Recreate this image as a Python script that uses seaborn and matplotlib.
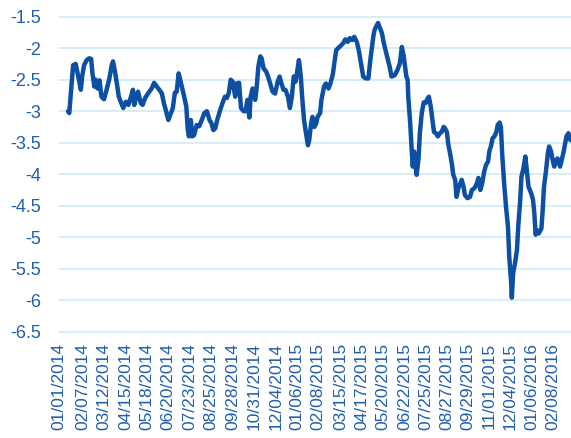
import matplotlib
matplotlib.use("Agg")
import matplotlib.pyplot as plt
import seaborn as sns
import pandas as pd

# traced series (date, value)
dates = [
    "2014-01-15", "2014-01-17", "2014-01-23", "2014-01-27", "2014-01-30", "2014-02-04", "2014-02-06",
    "2014-02-09", "2014-02-13", "2014-02-17", "2014-02-20", "2014-02-22", "2014-02-25", "2014-02-27",
    "2014-03-02", "2014-03-05", "2014-03-08", "2014-03-12", "2014-03-16", "2014-03-20", "2014-03-24",
    "2014-03-26", "2014-03-29", "2014-04-01", "2014-04-04", "2014-04-07", "2014-04-11", "2014-04-15",
    "2014-04-19", "2014-04-23", "2014-04-26", "2014-04-28", "2014-05-02", "2014-05-04", "2014-05-08",
    "2014-05-11", "2014-05-15", "2014-05-20", "2014-05-25", "2014-05-29", "2014-06-02", "2014-06-06",
    "2014-06-10", "2014-06-13", "2014-06-16", "2014-06-20", "2014-06-23", "2014-06-27", "2014-06-30",
    "2014-07-03", "2014-07-06", "2014-07-08", "2014-07-11", "2014-07-14", "2014-07-18", "2014-07-20",
    "2014-07-22", "2014-07-25", "2014-07-27", "2014-07-30", "2014-08-03", "2014-08-07", "2014-08-11",
    "2014-08-15", "2014-08-19", "2014-08-23", "2014-08-26", "2014-08-29", "2014-09-01", "2014-09-04",
    "2014-09-08", "2014-09-13", "2014-09-16", "2014-09-19", "2014-09-22", "2014-09-25", "2014-09-28",
    "2014-10-02", "2014-10-04", "2014-10-08", "2014-10-11", "2014-10-15", "2014-10-18", "2014-10-21",
    "2014-10-24", "2014-10-26", "2014-10-29", "2014-11-02", "2014-11-04", "2014-11-07", "2014-11-10",
    "2014-11-12", "2014-11-15", "2014-11-19", "2014-11-22", "2014-11-25", "2014-11-29", "2014-12-03",
    "2014-12-07", "2014-12-10", "2014-12-12", "2014-12-16", "2014-12-19", "2014-12-23", "2014-12-26",
    "2014-12-29", "2015-01-01", "2015-01-04", "2015-01-07", "2015-01-09", "2015-01-12", "2015-01-14",
    "2015-01-17", "2015-01-20", "2015-01-23", "2015-01-25", "2015-01-28", "2015-01-30", "2015-02-02",
    "2015-02-05", "2015-02-07", "2015-02-11", "2015-02-13", "2015-02-17", "2015-02-20", "2015-02-24",
    "2015-02-27", "2015-03-03", "2015-03-05", "2015-03-08", "2015-03-11", "2015-03-15", "2015-03-19",
    "2015-03-22", "2015-03-26", "2015-03-29", "2015-04-02", "2015-04-05", "2015-04-09", "2015-04-12",
    "2015-04-16", "2015-04-19", "2015-04-23", "2015-04-27", "2015-04-30", "2015-05-02", "2015-05-05",
    "2015-05-07", "2015-05-12", "2015-05-18", "2015-05-21", "2015-05-26", "2015-05-30", "2015-06-02",
    "2015-06-07", "2015-06-11", "2015-06-15", "2015-06-18", "2015-06-21", "2015-06-25", "2015-06-27",
    "2015-06-28", "2015-07-01", "2015-07-03", "2015-07-05", "2015-07-07", "2015-07-09", "2015-07-11",
    "2015-07-14", "2015-07-16", "2015-07-19", "2015-07-22", "2015-07-25", "2015-07-28", "2015-07-30",
    "2015-08-02", "2015-08-04", "2015-08-07", "2015-08-10", "2015-08-13", "2015-08-16", "2015-08-19",
    "2015-08-22", "2015-08-24", "2015-08-27", "2015-08-29", "2015-09-01", "2015-09-04", "2015-09-06",
    "2015-09-09", "2015-09-11", "2015-09-14", "2015-09-17", "2015-09-19", "2015-09-22", "2015-09-24",
    "2015-09-28", "2015-10-02", "2015-10-05", "2015-10-09", "2015-10-13", "2015-10-15", "2015-10-18",
    "2015-10-21", "2015-10-24", "2015-10-27", "2015-10-30", "2015-11-01", "2015-11-04", "2015-11-06",
    "2015-11-09", "2015-11-12", "2015-11-14", "2015-11-17", "2015-11-19", "2015-11-21", "2015-11-24",
    "2015-11-27", "2015-11-30", "2015-12-02", "2015-12-05", "2015-12-06", "2015-12-08", "2015-12-11",
    "2015-12-14", "2015-12-16", "2015-12-19", "2015-12-21", "2015-12-24", "2015-12-27", "2015-12-29",
    "2016-01-01", "2016-01-05", "2016-01-08", "2016-01-10", "2016-01-12", "2016-01-14", "2016-01-17",
    "2016-01-21", "2016-01-23", "2016-01-25", "2016-01-28", "2016-01-31", "2016-02-02", "2016-02-05",
    "2016-02-08", "2016-02-10", "2016-02-13", "2016-02-15", "2016-02-19", "2016-02-22", "2016-02-24",
    "2016-02-27", "2016-02-29", "2016-03-03", "2016-03-06",
]
values = [
    -3.00, -3.03, -2.27, -2.25, -2.40, -2.66, -2.45,
    -2.27, -2.19, -2.16, -2.17, -2.40, -2.61, -2.50,
    -2.64, -2.51, -2.77, -2.81, -2.66, -2.50, -2.27,
    -2.21, -2.37, -2.56, -2.77, -2.85, -2.95, -2.85,
    -2.90, -2.77, -2.66, -2.90, -2.74, -2.69, -2.87,
    -2.90, -2.79, -2.71, -2.64, -2.55, -2.61, -2.66,
    -2.72, -2.87, -2.98, -3.14, -3.06, -2.95, -2.71,
    -2.69, -2.40, -2.48, -2.61, -2.74, -2.93, -3.27,
    -3.40, -3.14, -3.40, -3.38, -3.22, -3.24, -3.14,
    -3.03, -3.00, -3.14, -3.19, -3.30, -3.27, -3.14,
    -3.00, -2.85, -2.77, -2.79, -2.71, -2.50, -2.53,
    -2.77, -2.56, -2.55, -2.95, -3.00, -3.00, -2.82,
    -3.10, -2.77, -2.64, -2.82, -2.66, -2.29, -2.13,
    -2.16, -2.32, -2.37, -2.45, -2.55, -2.69, -2.72,
    -2.53, -2.45, -2.53, -2.66, -2.66, -2.77, -2.95,
    -2.77, -2.45, -2.53, -2.32, -2.19, -2.45, -2.77,
    -3.14, -3.35, -3.54, -3.46, -3.19, -3.09, -3.25,
    -3.19, -3.09, -3.03, -2.82, -2.61, -2.56, -2.64,
    -2.56, -2.40, -2.24, -2.03, -2.00, -1.96, -1.92,
    -1.86, -1.90, -1.84, -1.87, -1.82, -1.90, -2.03,
    -2.27, -2.45, -2.48, -2.48, -2.19, -2.03, -1.79,
    -1.70, -1.60, -1.76, -1.92, -2.13, -2.29, -2.45,
    -2.43, -2.35, -2.24, -1.98, -2.13, -2.45, -2.50,
    -2.77, -3.19, -3.56, -3.88, -3.64, -3.83, -4.01,
    -3.75, -3.35, -3.03, -2.86, -2.87, -2.80, -2.77,
    -2.93, -3.09, -3.33, -3.35, -3.40, -3.35, -3.33,
    -3.25, -3.27, -3.33, -3.51, -3.67, -3.85, -4.01,
    -4.09, -4.36, -4.22, -4.14, -4.09, -4.20, -4.33,
    -4.38, -4.36, -4.25, -4.22, -4.14, -4.06, -4.25,
    -4.14, -3.96, -3.85, -3.80, -3.64, -3.54, -3.43,
    -3.40, -3.33, -3.22, -3.18, -3.25, -3.67, -4.14,
    -4.52, -4.83, -5.31, -5.73, -5.96, -5.57, -5.41,
    -5.20, -4.83, -4.41, -4.04, -3.91, -3.72, -3.91,
    -4.20, -4.30, -4.41, -4.62, -4.96, -4.89, -4.94,
    -4.86, -4.57, -4.20, -3.96, -3.67, -3.56, -3.64,
    -3.80, -3.88, -3.78, -3.75, -3.88, -3.75, -3.67,
    -3.51, -3.40, -3.35, -3.46,
]

tick_labels = [
    "01/01/2014", "02/07/2014", "03/12/2014", "04/15/2014", "05/18/2014", "06/20/2014",
    "07/23/2014", "08/25/2014", "09/28/2014", "10/31/2014", "12/04/2014", "01/06/2015",
    "02/08/2015", "03/15/2015", "04/17/2015", "05/20/2015", "06/22/2015", "07/25/2015",
    "08/27/2015", "09/29/2015", "11/01/2015", "12/04/2015", "01/06/2016", "02/08/2016",
]
y_ticks = [-1.5, -2, -2.5, -3, -3.5, -4, -4.5, -5, -5.5, -6, -6.5]

LINE = "#0c4fa3"
TEXT = "#1f5fae"
GRID = "#cbe8f6"

sns.set_theme(style="white")
plt.rcParams["font.family"] = ["Liberation Sans", "DejaVu Sans"]

df = pd.DataFrame({"date": pd.to_datetime(dates), "value": values})

fig = plt.figure(figsize=(5.71, 4.38), dpi=100)
ax = fig.add_axes([0.1033, 0.2427, 0.8967, 0.7192])

sns.lineplot(data=df, x="date", y="value", ax=ax, color=LINE, linewidth=3.2)

ax.set_xlim(pd.Timestamp("2014-01-01"), pd.Timestamp("2016-03-07"))
ax.set_ylim(-6.5, -1.5)
ax.set_yticks(y_ticks)
ax.set_yticklabels([f"{t:g}" for t in y_ticks])
ax.set_xticks(pd.to_datetime(tick_labels, format="%m/%d/%Y"))
ax.set_xticklabels(tick_labels, rotation=90)

ax.grid(axis="y", color=GRID, linewidth=1.1)
for gl in ax.get_ygridlines():
    gl.set_clip_on(False)
ax.set_axisbelow(True)
for s in ax.spines.values():
    s.set_visible(False)

ax.tick_params(axis="y", length=0, pad=13, labelsize=13, labelcolor=TEXT)
ax.tick_params(axis="x", length=0, pad=8, labelsize=12.5, labelcolor=TEXT)
ax.set_xlabel("")
ax.set_ylabel("")

fig.savefig("out.png", dpi=100)
